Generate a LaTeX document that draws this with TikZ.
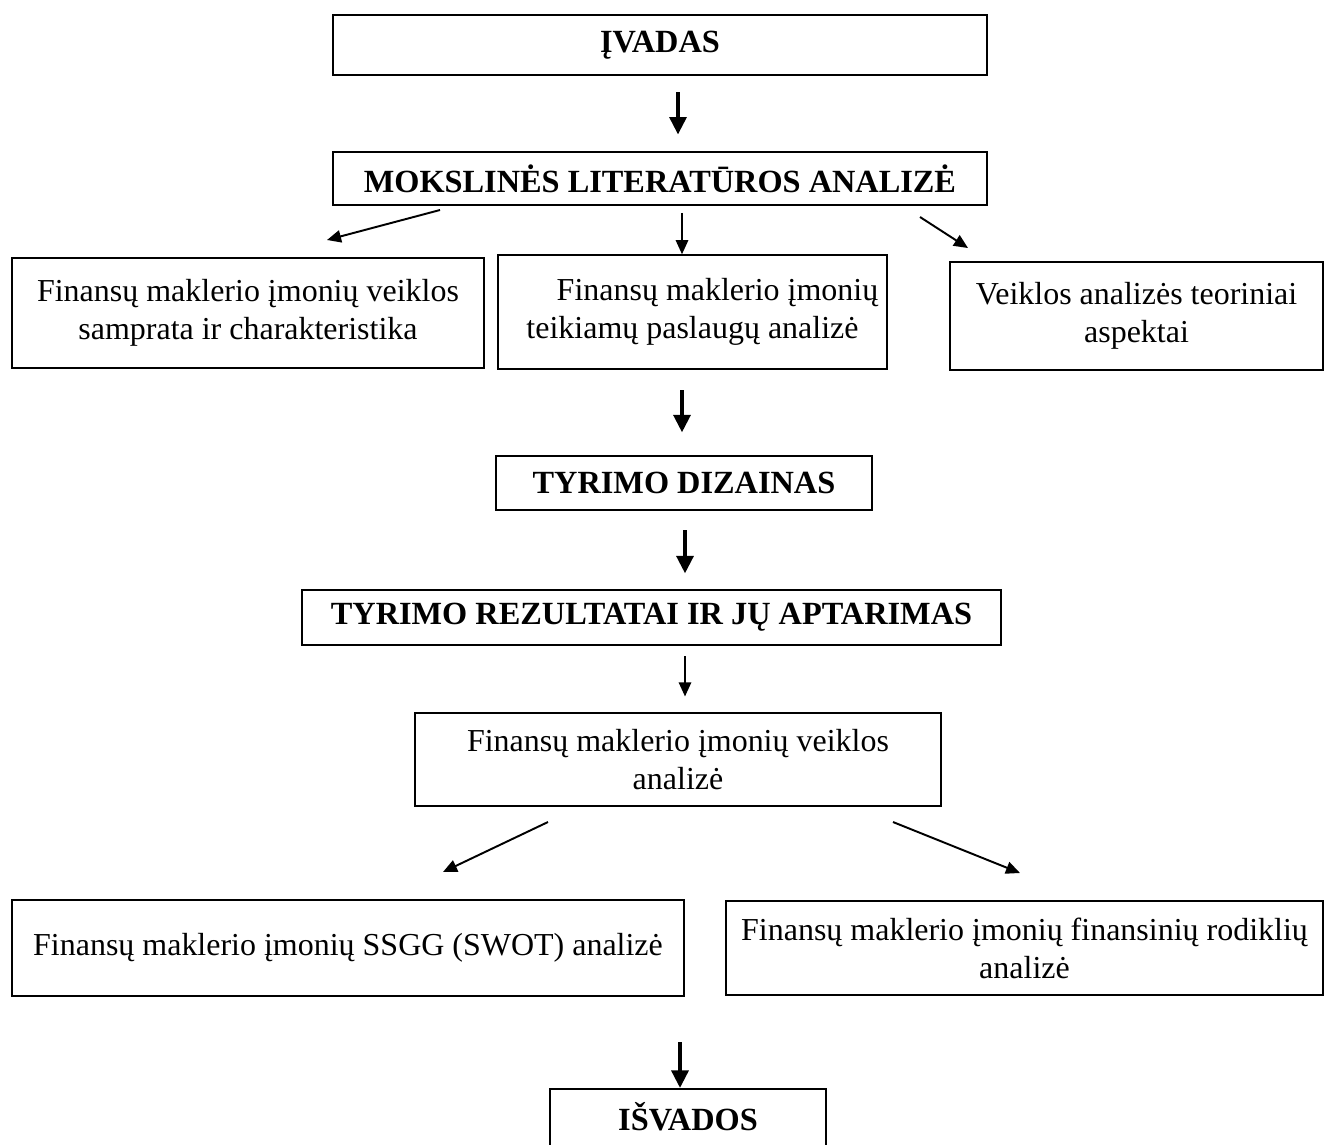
\documentclass[tikz,border=0pt]{standalone}
\usepackage{fontspec}
\setmainfont{Liberation Serif}
\usetikzlibrary{arrows.meta}

\tikzset{
    box/.style={draw, line width=0.85pt, align=center, inner sep=0pt,
        font=\fontsize{18.2}{21.6}\selectfont},
    headbox/.style={box, font=\fontsize{18.4}{21.6}\selectfont\bfseries},
    bigarrow/.style={line width=2.3pt, -{Triangle[length=10pt, width=9.5pt]}},
    smallarrow/.style={line width=1.1pt, -{Triangle[length=8pt, width=7pt]}}
}

\begin{document}
\begin{tikzpicture}[x=0.02cm, y=-0.02cm]
        \useasboundingbox (0,0) rectangle (1325,1144);
        \clip (0,0) rectangle (1325,1144);

        % Upper part
        \node[headbox, minimum width=13.08cm, minimum height=1.2cm] (ivadas) at (660,45) {ĮVADAS};
        \node[headbox, minimum width=13.08cm, minimum height=1.06cm] (literatura) at (660,178.5) {MOKSLINĖS LITERATŪROS ANALIZĖ};
        \node[box, minimum width=9.44cm, minimum height=2.2cm] (samprata) at (248,313) {Finansų maklerio įmonių veiklos\\samprata ir charakteristika};
        \node[box, minimum width=7.78cm, minimum height=2.28cm] (paslaugos) at (692.5,312) {\hspace*{1cm}Finansų maklerio įmonių\\teikiamų paslaugų analizė};
        \node[box, minimum width=7.46cm, minimum height=2.16cm] (teorija) at (1136.5,316) {Veiklos analizės teoriniai\\aspektai};

        \draw[bigarrow] ([yshift=-9.5pt]ivadas.south -| 678,0) -- ([yshift=9.5pt]literatura.north -| 678,0);
        \draw[smallarrow] (440,210) -- (327,240);
        \draw[smallarrow] ([yshift=-4pt]literatura.south -| 682,0) -- (paslaugos.north -| 682,0);
        \draw[smallarrow] (920,217) -- (968,248);

        % Research
        \node[headbox, minimum width=7.52cm, minimum height=1.08cm] (dizainas) at (684,483) {TYRIMO DIZAINAS};
        \node[headbox, minimum width=13.98cm, minimum height=1.1cm] (rezultatai) at (651.5,617.5) {TYRIMO REZULTATAI IR JŲ APTARIMAS};
        \node[box, minimum width=10.52cm, minimum height=1.86cm] (veikla) at (678,759.5) {Finansų maklerio įmonių veiklos\\analizė};

        \draw[bigarrow] (682,390) -- ([yshift=13pt]dizainas.north -| 682,0);
        \draw[bigarrow] (685,530) -- ([yshift=9pt]rezultatai.north -| 685,0);
        \draw[smallarrow] ([yshift=-6pt]rezultatai.south -| 685,0) -- ([yshift=9pt]veikla.north -| 685,0);

        % Analysis
        \node[box, minimum width=13.44cm, minimum height=1.92cm] (ssgg) at (348,948) {Finansų maklerio įmonių SSGG (SWOT) analizė};
        \node[box, minimum width=11.94cm, minimum height=1.88cm] (rodikliai) at (1024.5,948) {Finansų maklerio įmonių finansinių rodiklių\\analizė};
        \draw[smallarrow] (548,822) -- (443,872);
        \draw[smallarrow] (893,822) -- (1020,873);

        % Conclusions
        \node[headbox, minimum width=5.52cm, minimum height=1.24cm, anchor=north] (isvados) at (688,1088) {};
        \node[font=\fontsize{18.4}{21.6}\selectfont\bfseries] (isvadostext) at (688,1117) {IŠVADOS};
        \draw[bigarrow] (680,1042) -- (isvados.north -| 680,0);
    \end{tikzpicture}
\end{document}
